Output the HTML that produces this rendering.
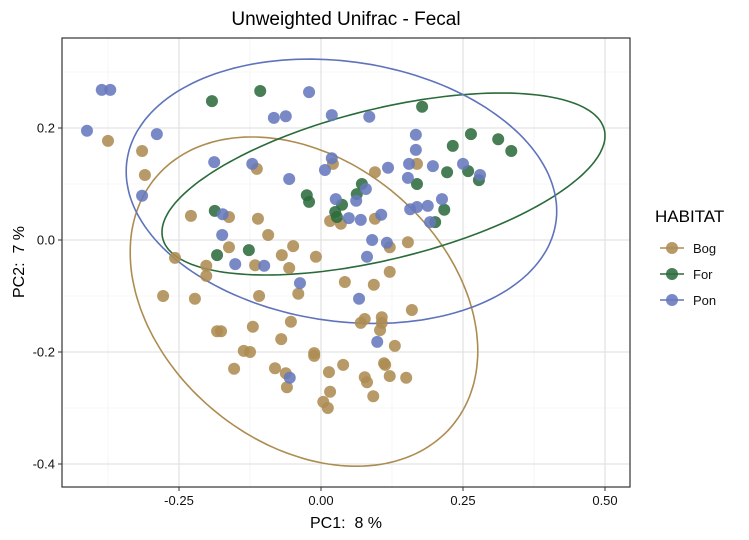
<!DOCTYPE html>
<html><head><meta charset="utf-8"><style>
body{margin:0;background:#fff;}
svg{display:block;font-family:"Liberation Sans",sans-serif;}
</style></head><body>
<svg id="chart" width="749" height="540" viewBox="0 0 749 540" xmlns="http://www.w3.org/2000/svg">
<rect width="749" height="540" fill="#fff"/>
<text x="346" y="25" text-anchor="middle" font-size="19">Unweighted Unifrac - Fecal</text>
<g id="grid"></g>
<g id="ellipses"></g>
<g id="points"></g>
<rect x="62" y="38" width="568" height="449" fill="none" stroke="#333" stroke-width="1.2"/>
<g id="axes"></g>
<text x="346" y="528" text-anchor="middle" font-size="16">PC1: &#160;8 %</text>
<text transform="translate(24,262) rotate(-90)" text-anchor="middle" font-size="16">PC2: &#160;7 %</text>
<g id="legend">
<text x="655" y="222" font-size="17">HABITAT</text>
</g>
</svg>
<script>
const groups = ["Bog","For","Pon"];
const bogX = [-0.375,-0.315,-0.310,-0.113,0.021,0.016,0.035,-0.162,-0.229,-0.111,-0.093,-0.162,-0.257,-0.202,-0.202,-0.116,-0.069,-0.049,-0.009,-0.056,0.095,0.169,0.095,0.121,0.153,-0.040,-0.109,-0.278,-0.222,0.121,0.042,0.093,0.160,0.077,0.070,0.107,0.107,0.104,0.130,-0.053,-0.120,-0.183,-0.176,-0.070,-0.136,-0.125,-0.012,-0.012,0.111,0.113,0.039,-0.153,-0.081,-0.062,-0.060,0.014,0.077,0.081,0.121,0.150,0.016,0.092,0.004,0.012];
const bogY = [0.177,0.159,0.116,0.127,0.136,0.034,0.029,0.041,0.043,0.038,0.009,-0.013,-0.032,-0.046,-0.064,-0.045,-0.027,-0.011,-0.030,-0.050,0.121,0.136,0.038,-0.013,-0.004,-0.096,-0.100,-0.100,-0.105,-0.057,-0.075,-0.080,-0.125,-0.141,-0.148,-0.138,-0.148,-0.161,-0.189,-0.146,-0.155,-0.163,-0.163,-0.177,-0.198,-0.200,-0.202,-0.207,-0.220,-0.223,-0.223,-0.230,-0.229,-0.238,-0.263,-0.236,-0.245,-0.254,-0.243,-0.246,-0.271,-0.279,-0.289,-0.300];
const forX = [-0.192,-0.107,-0.025,-0.021,0.037,0.025,0.028,-0.187,-0.127,-0.183,0.178,0.264,0.312,0.335,0.232,0.259,0.222,0.278,0.169,0.072,0.063,0.217,0.201];
const forY = [0.248,0.266,0.080,0.068,0.063,0.050,0.041,0.052,-0.018,-0.027,0.238,0.189,0.180,0.159,0.168,0.123,0.121,0.107,0.100,0.100,0.082,0.054,0.032];
const ponX = [-0.412,-0.386,-0.371,-0.289,-0.021,-0.083,-0.062,0.019,-0.188,-0.121,-0.056,0.019,0.007,-0.315,0.026,0.049,-0.173,-0.174,-0.151,-0.100,0.085,0.167,0.167,0.118,0.155,0.197,0.250,0.280,0.153,0.079,0.062,0.070,0.106,0.157,0.169,0.188,0.213,0.192,0.090,0.116,0.081,-0.037,0.067,0.099,-0.055];
const ponY = [0.195,0.268,0.268,0.189,0.264,0.218,0.221,0.223,0.139,0.136,0.109,0.146,0.125,0.079,0.073,0.039,0.046,0.009,-0.043,-0.046,0.220,0.188,0.161,0.129,0.136,0.132,0.136,0.116,0.111,0.091,0.070,0.036,0.045,0.055,0.059,0.061,0.073,0.032,0.000,-0.005,-0.030,-0.077,-0.105,-0.182,-0.246];
const xTicks = [-0.25,0.00,0.25,0.50];
const xTickLabels = ["-0.25","0.00","0.25","0.50"];
const yTicks = [0.2,0.0,-0.2,-0.4];
const yTickLabels = ["0.2","0.0","-0.2","-0.4"];
// ellipse params in data units: centre x, centre y, half-width x, half-height y, correlation
const ellBog = [-0.030,-0.110,0.306,0.294,-0.30];
const ellFor = [0.110,0.100,0.390,0.1625,0.53];
const ellPon = [0.036,0.087,0.379,0.236,-0.15];

const NS="http://www.w3.org/2000/svg";
const X0=321, XS=568, Y0=240, YS=560;
const sx=v=>X0+v*XS, sy=v=>Y0-v*YS;
const el=(t,a,p)=>{const e=document.createElementNS(NS,t);for(const k in a)e.setAttribute(k,a[k]);p.appendChild(e);return e;};
const colors={Bog:"#ad8c52",For:"#2e6c3d",Pon:"#6779bd"};
const lineColors={Bog:"#ad8c4f",For:"#2a6b3a",Pon:"#5e73bb"};

const grid=document.getElementById('grid');
const minorX=[-0.375,-0.125,0.125,0.375], minorY=[0.3,0.1,-0.1,-0.3];
minorX.forEach(v=>{const l=el('line',{x1:sx(v),x2:sx(v),y1:38,y2:487,stroke:"#f0f0f0","stroke-width":0.6},grid);

});
minorY.forEach(v=>{const l=el('line',{x1:62,x2:630,y1:sy(v),y2:sy(v),stroke:"#f0f0f0","stroke-width":0.6},grid);

});
const axes=document.getElementById('axes');
xTicks.forEach((v,i)=>{const l=el('line',{x1:sx(v),x2:sx(v),y1:38,y2:487,stroke:"#dedede","stroke-width":1.1},grid);


const t=el('line',{x1:sx(v),x2:sx(v),y1:487,y2:491,stroke:"#333","stroke-width":1},axes);


const tx=el('text',{x:sx(v),y:505,"text-anchor":"middle","font-size":13,fill:"#111"},axes);tx.textContent=xTickLabels[i];

});
yTicks.forEach((v,i)=>{const l=el('line',{x1:62,x2:630,y1:sy(v),y2:sy(v),stroke:"#dedede","stroke-width":1.1},grid);


const t=el('line',{x1:58,x2:62,y1:sy(v),y2:sy(v),stroke:"#333","stroke-width":1},axes);


const tx=el('text',{x:55,y:sy(v)+4.5,"text-anchor":"end","font-size":13,fill:"#111"},axes);tx.textContent=yTickLabels[i];

});

const ell=document.getElementById('ellipses');
[[ellBog,"Bog"],[ellFor,"For"],[ellPon,"Pon"]].forEach(([p,g])=>{
  let d="";for(let i=0;i<=180;i++){const t=i/180*2*Math.PI;
    const x=p[0]+p[2]*Math.cos(t), y=p[1]+p[3]*(p[4]*Math.cos(t)+Math.sqrt(1-p[4]*p[4])*Math.sin(t));
    d+=(i?"L":"M")+sx(x).toFixed(1)+","+sy(y).toFixed(1);}
  const e=el('path',{d:d+"Z",fill:"none",stroke:lineColors[g],"stroke-width":1.6},ell);
  
  
});

const pts=document.getElementById('points');
[[bogX,bogY,"Bog"],[forX,forY,"For"],[ponX,ponY,"Pon"]].forEach(([xs,ys,g])=>{
  xs.forEach((v,i)=>{const c=el('circle',{cx:sx(v),cy:sy(ys[i]),r:6,fill:colors[g],"fill-opacity":0.88},pts);
  
  });
});

const leg=document.getElementById('legend');
groups.forEach((g,i)=>{const y=248+i*26;
  const k=el('g',{},leg);
  
  
  el('line',{x1:660,x2:684,y1:y,y2:y,stroke:lineColors[g],"stroke-width":1.6},k);
  el('circle',{cx:672,cy:y,r:6,fill:colors[g],"fill-opacity":0.88},k);
  const t=el('text',{x:693,y:y+5,"font-size":13,fill:"#111"},k);t.textContent=g;
});
</script>
</body></html>
